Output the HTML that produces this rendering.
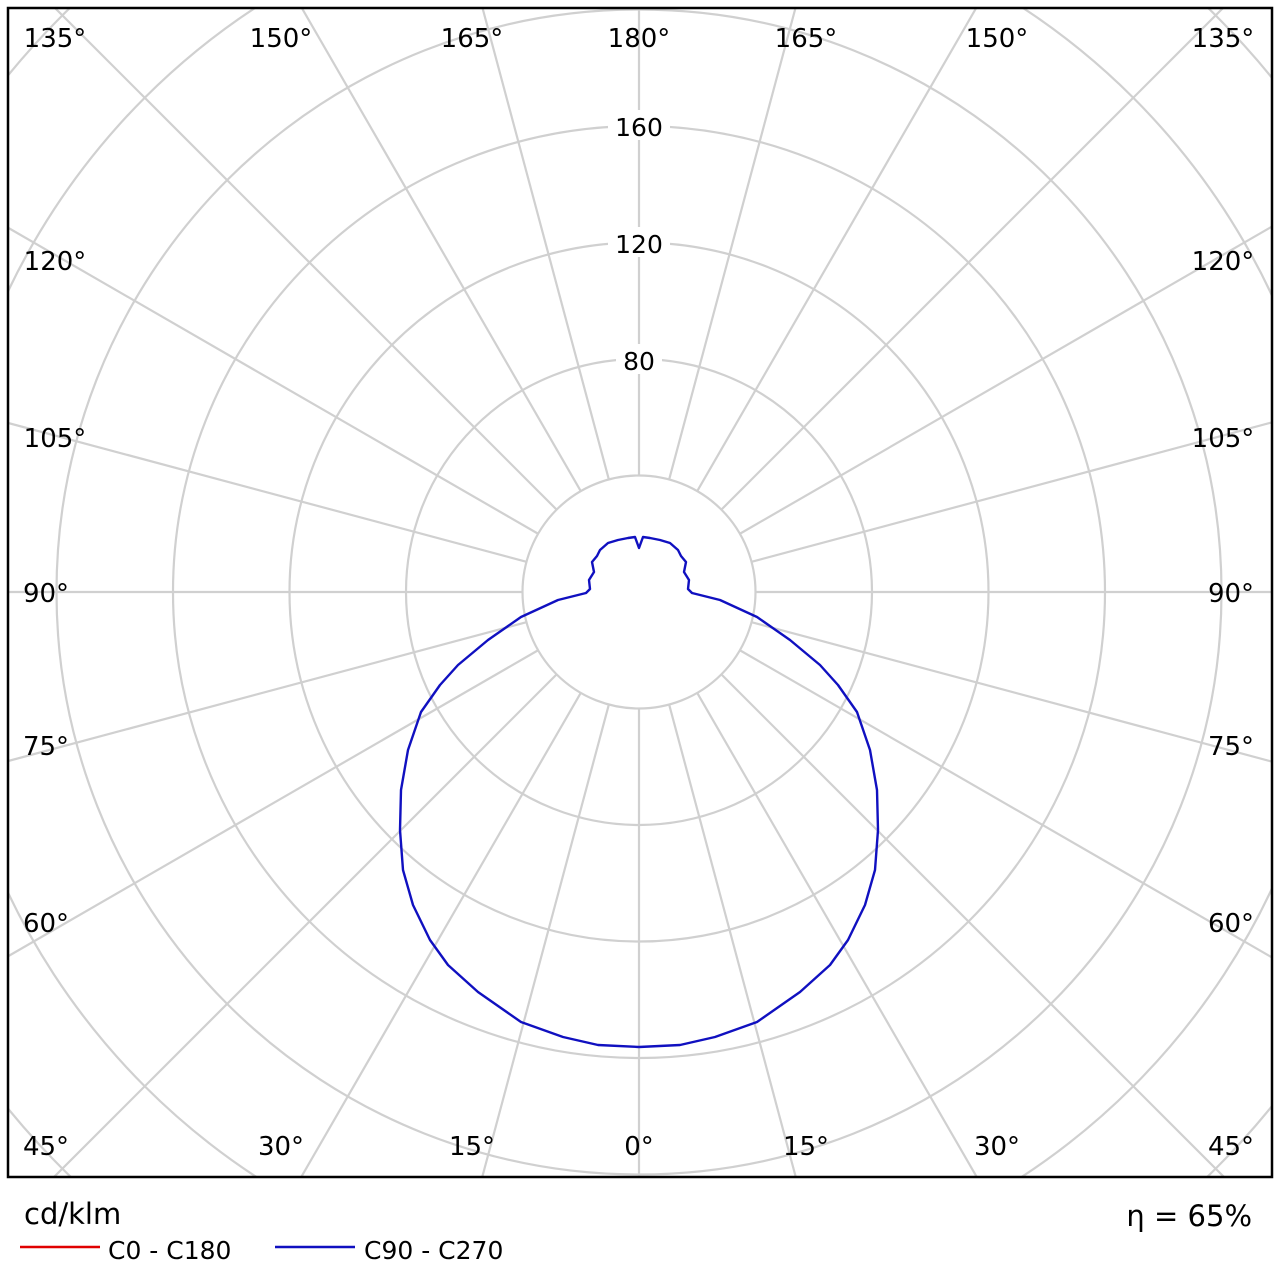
<!DOCTYPE html>
<html><head><meta charset="utf-8"><style>
html,body{margin:0;padding:0;background:#fff;width:1280px;height:1280px;overflow:hidden;}
svg{display:block;font-family:"DejaVu Sans","Liberation Sans",sans-serif;}
</style></head><body>
<svg width="1280" height="1280" viewBox="0 0 1280 1280" xmlns="http://www.w3.org/2000/svg">
<defs><clipPath id="c"><rect x="8" y="8" width="1264" height="1169"/></clipPath></defs>
<rect width="1280" height="1280" fill="#fff"/>
<g clip-path="url(#c)" stroke="#d0d0d0" stroke-width="2.2" fill="none">
<circle cx="639" cy="592" r="116.5"/>
<circle cx="639" cy="592" r="233"/>
<circle cx="639" cy="592" r="349.5"/>
<circle cx="639" cy="592" r="466"/>
<circle cx="639" cy="592" r="582.5"/>
<circle cx="639" cy="592" r="699"/>
<circle cx="639" cy="592" r="815.5"/>
<g id="sp">
<line x1="639" y1="708.5" x2="639" y2="1600"/>
<line x1="639" y1="708.5" x2="639" y2="1600" transform="rotate(15 639 592)"/>
<line x1="639" y1="708.5" x2="639" y2="1600" transform="rotate(30 639 592)"/>
<line x1="639" y1="708.5" x2="639" y2="1600" transform="rotate(45 639 592)"/>
<line x1="639" y1="708.5" x2="639" y2="1600" transform="rotate(60 639 592)"/>
<line x1="639" y1="708.5" x2="639" y2="1600" transform="rotate(75 639 592)"/>
<line x1="639" y1="708.5" x2="639" y2="1600" transform="rotate(90 639 592)"/>
<line x1="639" y1="708.5" x2="639" y2="1600" transform="rotate(105 639 592)"/>
<line x1="639" y1="708.5" x2="639" y2="1600" transform="rotate(120 639 592)"/>
<line x1="639" y1="708.5" x2="639" y2="1600" transform="rotate(135 639 592)"/>
<line x1="639" y1="708.5" x2="639" y2="1600" transform="rotate(150 639 592)"/>
<line x1="639" y1="708.5" x2="639" y2="1600" transform="rotate(165 639 592)"/>
</g>
<use href="#sp" transform="rotate(180 639 592)"/>
</g>
<g font-size="25" text-anchor="middle" fill="#000">
<rect x="608" y="110" width="62" height="30" fill="#fff"/><text x="639" y="136">160</text>
<rect x="608" y="227" width="62" height="30" fill="#fff"/><text x="639" y="253">120</text>
<rect x="616" y="344" width="46" height="30" fill="#fff"/><text x="639" y="370">80</text>
</g>
<polyline fill="none" stroke="#1010c0" stroke-width="2.4" stroke-linejoin="round" points="
639,1047 680,1045 715,1037 757,1022 800,992 830,965 848,940 865,905 875,870 878,830 877,790 870,750 857,712 838,685 820,665 790,640 757,617 720,600 692,593 688,589 689,580 684,572 686,562 681,556 678,550 670,543 660,540 650,538 643,537 639,548
635,537 628,538 618,540 608,543 600,550 597,556 592,562 594,572 589,580 590,589 586,593 558,600 521,617 488,640 458,665 440,685 421,712 408,750 401,790 400,830 403,870 413,905 430,940 448,965 478,992 521,1022 563,1037 598,1045 639,1047"/>
<g font-size="26" fill="#000" text-anchor="middle">
<text x="55" y="47">135°</text><text x="281" y="47">150°</text><text x="472" y="47">165°</text><text x="639" y="47">180°</text><text x="806" y="47">165°</text><text x="997" y="47">150°</text><text x="1223" y="47">135°</text>
<text x="55" y="270">120°</text><text x="1223" y="270">120°</text>
<text x="55" y="447">105°</text><text x="1223" y="447">105°</text>
<text x="46" y="602">90°</text><text x="1231" y="602">90°</text>
<text x="46" y="755">75°</text><text x="1231" y="755">75°</text>
<text x="46" y="932">60°</text><text x="1231" y="932">60°</text>
<text x="46" y="1155">45°</text><text x="281" y="1155">30°</text><text x="472" y="1155">15°</text><text x="639" y="1155">0°</text><text x="806" y="1155">15°</text><text x="997" y="1155">30°</text><text x="1231" y="1155">45°</text>
</g>
<rect x="8" y="8" width="1264" height="1169" fill="none" stroke="#000" stroke-width="2.5"/>
<text x="24" y="1224" font-size="29">cd/klm</text>
<line x1="20" y1="1247" x2="100" y2="1247" stroke="#e00000" stroke-width="2.4"/>
<text x="108" y="1259" font-size="25">C0 - C180</text>
<line x1="275" y1="1247" x2="355" y2="1247" stroke="#1010c0" stroke-width="2.4"/>
<text x="364" y="1259" font-size="25">C90 - C270</text>
<text x="1252" y="1226" font-size="29" text-anchor="end">η = 65%</text>
</svg>
</body></html>
